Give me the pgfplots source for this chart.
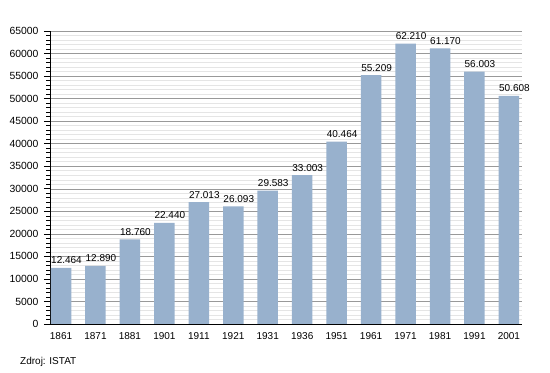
\documentclass[border=0pt]{standalone}
\usepackage{fontspec}
\setmainfont{Liberation Sans}
\usepackage{pgfplots}
\pgfplotsset{compat=1.18}
\definecolor{barblue}{HTML}{98B1CD}
\begin{document}
\fontsize{10bp}{12bp}\selectfont
\begin{tikzpicture}
\path[use as bounding box] (-50bp,-49bp) rectangle (500bp,324bp);
\begin{axis}[
  at={(0,0)}, anchor=south west,
  scale only axis, width=472bp, height=293bp,
  xmin=-0.32, xmax=13.38, ymin=0, ymax=65000,
  axis x line*=bottom, axis y line*=left,
  axis line style={black, line width=0.8pt},
  xtick={0,...,13},
  xticklabels={1861,1871,1881,1901,1911,1921,1931,1936,1951,1961,1971,1981,1991,2001},
  x tick style={draw=none},
  ytick={0,5000,...,65000}, minor y tick num=4,
  ymajorgrids, yminorgrids,
  major grid style={color=black!40, line width=0.5pt},
  minor grid style={color=black!10, line width=0.5pt},
  y tick style={black, line width=0.6pt},
  tick align=outside, major tick length=6bp, minor tick length=3.5bp,
  scaled y ticks=false,
  /pgf/number format/assume math mode=true,
  yticklabel style={/pgf/number format/1000 sep={}, xshift=-2bp, font=\fontsize{10.4bp}{12bp}\selectfont},
  xticklabel style={yshift=1.5bp, font=\fontsize{10bp}{12bp}\selectfont},
  ybar, bar width=20.5bp,
  nodes near coords, point meta=explicit symbolic,
  every node near coord/.append style={anchor=base west, inner sep=0pt, xshift=-10bp, yshift=4bp, font=\fontsize{10bp}{12bp}\selectfont, black},
]
\addplot[fill=barblue, draw=none] coordinates {
 (0,12464) [12.464]
 (1,12890) [12.890]
 (2,18760) [18.760]
 (3,22440) [22.440]
 (4,27013) [27.013]
 (5,26093) [26.093]
 (6,29583) [29.583]
 (7,33003) [33.003]
 (8,40464) [40.464]
 (9,55209) [55.209]
 (10,62210) [62.210]
 (11,61170) [61.170]
 (12,56003) [56.003]
 (13,50608) [50.608]
};
\end{axis}
\node[anchor=base west, inner sep=0pt] at (-30bp,-40bp) {Zdroj: ISTAT};
\end{tikzpicture}
\end{document}
